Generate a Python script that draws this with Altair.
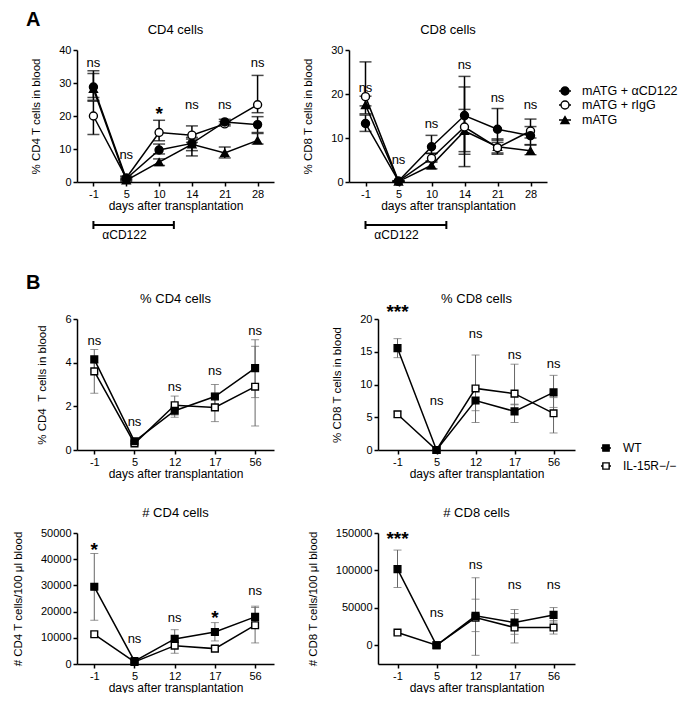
import altair as alt
import pandas as pd

FONT = "Liberation Sans"

# ---------------- Panel A data ----------------
A_DAYS = ["-1", "5", "10", "14", "21", "28"]
A_SERIES = ["mATG + αCD122", "mATG + rIgG", "mATG"]
A_SHAPES = ["circle", "circle", "triangle-up"]
A_FILLS = ["black", "white", "black"]

# CD4 (% CD4 T cells in blood)
A_CD4_ACD122 = [28.8, 1.0, 9.7, 11.7, 18.2, 17.4]
A_CD4_ACD122_LO = [24.8, 0.5, 8.5, 9.5, 17.5, 15.0]
A_CD4_ACD122_HI = [33.7, 1.5, 11.5, 13.5, 19.0, 19.8]
A_CD4_RIGG = [20.0, 1.2, 15.0, 14.2, 17.6, 23.4]
A_CD4_RIGG_LO = [14.4, 0.8, 12.5, 12.0, 17.0, 21.0]
A_CD4_RIGG_HI = [24.5, 1.8, 18.7, 17.0, 18.3, 32.3]
A_CD4_MATG = [28.2, 0.5, 6.0, 11.4, 8.8, 12.6]
A_CD4_MATG_LO = [25.6, 0.2, 5.0, 7.9, 7.3, 11.5]
A_CD4_MATG_HI = [32.9, 1.0, 7.0, 13.0, 10.6, 14.7]
A_CD4_SIG = ["ns", "ns", "*", "ns", "ns", "ns"]
A_CD4_SIG_Y = [36.0, 8.2, 22.0, 23.3, 23.3, 36.0]

# CD8 (% CD8 T cells in blood)
A_CD8_ACD122 = [13.3, 0.2, 8.0, 15.1, 12.0, 10.5]
A_CD8_ACD122_LO = [11.5, 0.1, 6.5, 6.3, 9.5, 8.5]
A_CD8_ACD122_HI = [15.2, 0.3, 10.6, 24.0, 16.7, 12.6]
A_CD8_RIGG = [19.4, 0.2, 5.4, 12.5, 7.8, 11.6]
A_CD8_RIGG_LO = [17.3, 0.1, 4.5, 3.5, 6.6, 10.0]
A_CD8_RIGG_HI = [27.3, 0.3, 6.5, 21.6, 9.0, 14.3]
A_CD8_MATG = [17.5, 0.1, 3.8, 11.6, 8.0, 7.1]
A_CD8_MATG_LO = [15.5, 0.0, 3.0, 6.9, 6.3, 6.2]
A_CD8_MATG_HI = [19.5, 0.2, 4.8, 16.5, 9.8, 8.4]
A_CD8_SIG = ["ns", "ns", "ns", "ns", "ns", "ns"]
A_CD8_SIG_Y = [21.3, 4.9, 13.1, 26.7, 19.2, 17.5]

# anti-CD122 treatment window (in day-index units)
ANNOT_LABEL = ["αCD122"]
ANNOT_START = [0]
ANNOT_END = [2.45]

# ---------------- Panel B data ----------------
B_DAYS = ["-1", "5", "12", "17", "56"]
B_SERIES = ["WT", "IL-15R−/−"]
B_SHAPES = ["square", "square"]
B_FILLS = ["black", "white"]

# % CD4
B_CD4P_WT = [4.15, 0.4, 1.8, 2.45, 3.75]
B_CD4P_WT_LO = [3.7, 0.3, 1.6, 1.9, 2.4]
B_CD4P_WT_HI = [4.6, 0.5, 2.0, 3.0, 5.05]
B_CD4P_KO = [3.6, 0.3, 2.05, 1.95, 2.9]
B_CD4P_KO_LO = [2.6, 0.2, 1.5, 1.3, 1.1]
B_CD4P_KO_HI = [4.0, 0.4, 2.47, 2.6, 4.75]
B_CD4P_SIG = ["ns", "ns", "ns", "ns", "ns"]
B_CD4P_SIG_Y = [5.0, 1.3, 2.9, 3.6, 5.45]

# % CD8
B_CD8P_WT = [15.55, 0.0, 7.55, 5.9, 8.8]
B_CD8P_WT_LO = [14.1, 0.0, 4.2, 4.2, 6.5]
B_CD8P_WT_HI = [17.0, 0.0, 9.0, 7.0, 11.4]
B_CD8P_KO = [5.45, 0.0, 9.4, 8.6, 5.6]
B_CD8P_KO_LO = [5.0, 0.0, 6.0, 6.9, 2.6]
B_CD8P_KO_HI = [5.9, 0.0, 14.5, 13.1, 8.0]
B_CD8P_SIG = ["***", "ns", "ns", "ns", "ns"]
B_CD8P_SIG_Y = [21.8, 7.5, 17.7, 14.5, 13.2]

# # CD4
B_CD4N_WT = [29460, 1100, 9570, 12240, 17990]
B_CD4N_WT_LO = [16700, 500, 6000, 8800, 14000]
B_CD4N_WT_HI = [42200, 1500, 13100, 15800, 22070]
B_CD4N_KO = [11350, 770, 7000, 5870, 14800]
B_CD4N_KO_LO = [10500, 300, 4100, 5000, 8040]
B_CD4N_KO_HI = [12200, 1200, 9000, 6800, 21560]
B_CD4N_SIG = ["*", "ns", "ns", "*", "ns"]
B_CD4N_SIG_Y = [45500, 9440, 17700, 19400, 27900]

# # CD8
B_CD8N_WT = [101800, 0, 39300, 30400, 40600]
B_CD8N_WT_LO = [77200, -500, 18300, 14700, 31000]
B_CD8N_WT_HI = [127200, 500, 61600, 47800, 50400]
B_CD8N_KO = [17000, 0, 37000, 23700, 23700]
B_CD8N_KO_LO = [15000, 0, -13400, 3100, 15000]
B_CD8N_KO_HI = [19000, 0, 90200, 42400, 33000]
B_CD8N_SIG = ["***", "ns", "ns", "ns", "ns"]
B_CD8N_SIG_Y = [149000, 43750, 107000, 80400, 80400]


def table(days, series, means, los, his):
    rows = []
    for s, m, lo, hi in zip(series, means, los, his):
        for i in range(len(days)):
            rows.append({"series": s, "idx": i, "mean": m[i], "lo": lo[i], "hi": hi[i]})
    return pd.DataFrame(rows)


def make_panel(days, series, shapes, fills, means, los, his, sig_labels, sig_y,
               title, ytitle, ydomain, yvalues, xdomain, width, height,
               err_color, err_width, cap, msize, extra_fn=None, shift=0):
    """shift > 0: the plot frame starts `shift` px left of the cell origin."""
    df = table(days, series, means, los, his)
    labels_js = "[" + ",".join("'%s'" % d for d in days) + "]"
    cell_w = width - shift

    def X(field):
        return alt.X(f"{field}:Q",
                     scale=alt.Scale(domain=xdomain, nice=False, zero=False, range=[-shift, cell_w]),
                     axis=alt.Axis(values=list(range(len(days))),
                                   labelExpr=f"{labels_js}[datum.value]",
                                   title="days after transplantation"))

    def Y(field):
        return alt.Y(f"{field}:Q",
                     scale=alt.Scale(domain=ydomain, nice=False, zero=False),
                     axis=alt.Axis(values=yvalues, format="d", title=ytitle, offset=shift))

    base = alt.Chart(df)
    err = base.mark_errorbar(ticks=True, size=cap, thickness=err_width, color=err_color).encode(
        x=X("idx"), y=Y("lo"), y2="hi:Q", detail="series:N")
    line = base.mark_line(color="black", strokeWidth=1.5).encode(
        x=X("idx"), y=Y("mean"), detail="series:N")
    layers = [err, line]
    # points: first series drawn last so it sits on top
    for s, sh, f in reversed(list(zip(series, shapes, fills))):
        layers.append(base.transform_filter(alt.datum.series == s).mark_point(
            shape=sh, fill=f, size=msize, stroke="black", strokeWidth=1.4, opacity=1, fillOpacity=1
        ).encode(x=X("idx"), y=Y("mean")))
    sdf = pd.DataFrame({"idx": list(range(len(sig_labels))), "y": sig_y, "label": sig_labels})
    layers.append(alt.Chart(sdf).transform_filter("datum.label == 'ns'").mark_text(
        fontSize=13, color="black").encode(x=X("idx"), y=Y("y"), text="label:N"))
    layers.append(alt.Chart(sdf).transform_filter("datum.label != 'ns'").mark_text(
        fontSize=19, fontWeight="bold", color="black", dy=5).encode(x=X("idx"), y=Y("y"), text="label:N"))
    # panel title
    layers.append(alt.Chart(pd.DataFrame({"t": [title]})).mark_text(
        fontSize=13, color="black", baseline="middle", align="center").encode(
        x=alt.value(width / 2 - shift), y=alt.value(-20), text="t:N"))
    if extra_fn is not None:
        layers += extra_fn(X)
    return alt.layer(*layers).properties(width=cell_w, height=height)


def legend_layers(series, shapes, fills, xm, xt, ys, half, msize, fsize):
    out = []
    for s, sh, f, yy in zip(series, shapes, fills, ys):
        d = alt.Chart(pd.DataFrame({"s": [s]}))
        out.append(d.mark_rule(color="black", strokeWidth=1.5).encode(
            x=alt.value(xm - half), x2=alt.value(xm + half), y=alt.value(yy)))
        out.append(d.mark_point(shape=sh, fill=f, stroke="black", strokeWidth=1.4, size=msize,
                                opacity=1, fillOpacity=1).encode(x=alt.value(xm), y=alt.value(yy)))
        out.append(d.mark_text(align="left", baseline="middle", fontSize=fsize, color="black").encode(
            x=alt.value(xt), y=alt.value(yy), text="s:N"))
    return out


def panel_label(letter, x, y):
    return alt.Chart(pd.DataFrame({"t": [letter]})).mark_text(
        align="left", baseline="alphabetic", fontSize=20, fontWeight="bold", color="black").encode(
        x=alt.value(x), y=alt.value(y), text="t:N")


def annot_layers(X):
    d = alt.Chart(pd.DataFrame({"start": ANNOT_START, "end": ANNOT_END, "label": ANNOT_LABEL}))
    return [
        d.mark_rule(color="black", strokeWidth=2).encode(x=X("start"), x2="end:Q", y=alt.value(175)),
        d.mark_rule(color="black", strokeWidth=2).encode(x=X("start"), y=alt.value(171), y2=alt.value(179)),
        d.mark_rule(color="black", strokeWidth=2).encode(x=X("end"), y=alt.value(171), y2=alt.value(179)),
        d.mark_text(align="center", baseline="middle", fontSize=12, color="black", dx=31).encode(
            x=X("start"), y=alt.value(185), text="label:N"),
    ]


def spacer(w, h):
    return alt.Chart(pd.DataFrame({"a": [0]})).mark_point(opacity=0, size=1).encode(
        x=alt.value(0), y=alt.value(0)).properties(width=w, height=h)


A_X = [-0.5, 5.5]
SHIFT_A = 29  # row A right panel sits 29 px further left than row B right panels

a_cd4 = make_panel(A_DAYS, A_SERIES, A_SHAPES, A_FILLS,
                   [A_CD4_ACD122, A_CD4_RIGG, A_CD4_MATG],
                   [A_CD4_ACD122_LO, A_CD4_RIGG_LO, A_CD4_MATG_LO],
                   [A_CD4_ACD122_HI, A_CD4_RIGG_HI, A_CD4_MATG_HI],
                   A_CD4_SIG, A_CD4_SIG_Y, "CD4 cells", "% CD4 T cells in blood",
                   [0, 40], [0, 10, 20, 30, 40], A_X, 197, 132,
                   "black", 1.5, 12, 64,
                   extra_fn=lambda X: annot_layers(X) + [panel_label("A", -51, -24)])

a_cd8 = make_panel(A_DAYS, A_SERIES, A_SHAPES, A_FILLS,
                   [A_CD8_ACD122, A_CD8_RIGG, A_CD8_MATG],
                   [A_CD8_ACD122_LO, A_CD8_RIGG_LO, A_CD8_MATG_LO],
                   [A_CD8_ACD122_HI, A_CD8_RIGG_HI, A_CD8_MATG_HI],
                   A_CD8_SIG, A_CD8_SIG_Y, "CD8 cells", "% CD8 T cells in blood",
                   [0, 30], [0, 10, 20, 30], A_X, 198, 132,
                   "black", 1.5, 12, 64,
                   extra_fn=lambda X: annot_layers(X) + legend_layers(
                       A_SERIES, A_SHAPES, A_FILLS, 216 - SHIFT_A, 233 - SHIFT_A, [41, 55, 70], 6, 64, 12.5),
                   shift=SHIFT_A)

B_XL = [-0.43, 4.47]
B_XR = [-0.5, 4.55]
b_cd4p = make_panel(B_DAYS, B_SERIES, B_SHAPES, B_FILLS,
                    [B_CD4P_WT, B_CD4P_KO], [B_CD4P_WT_LO, B_CD4P_KO_LO], [B_CD4P_WT_HI, B_CD4P_KO_HI],
                    B_CD4P_SIG, B_CD4P_SIG_Y, "% CD4 cells", "% CD4\u00a0\u00a0T cells in blood",
                    [0, 6], [0, 2, 4, 6], B_XL, 197, 131,
                    "#666666", 1, 8, 45,
                    extra_fn=lambda X: [panel_label("B", -51, -30)])
b_cd8p = make_panel(B_DAYS, B_SERIES, B_SHAPES, B_FILLS,
                    [B_CD8P_WT, B_CD8P_KO], [B_CD8P_WT_LO, B_CD8P_KO_LO], [B_CD8P_WT_HI, B_CD8P_KO_HI],
                    B_CD8P_SIG, B_CD8P_SIG_Y, "% CD8 cells", "% CD8 T cells in blood",
                    [0, 20], [0, 5, 10, 15, 20], B_XR, 197, 131,
                    "#666666", 1, 8, 45,
                    extra_fn=lambda X: legend_layers(
                        B_SERIES, B_SHAPES, B_FILLS, 228, 245, [129, 147], 5, 40, 12))
b_cd4n = make_panel(B_DAYS, B_SERIES, B_SHAPES, B_FILLS,
                    [B_CD4N_WT, B_CD4N_KO], [B_CD4N_WT_LO, B_CD4N_KO_LO], [B_CD4N_WT_HI, B_CD4N_KO_HI],
                    B_CD4N_SIG, B_CD4N_SIG_Y, "# CD4 cells", "# CD4 T cells/100 μl blood",
                    [0, 50000], [0, 10000, 20000, 30000, 40000, 50000], B_XL, 197, 131,
                    "#666666", 1, 8, 45)
b_cd8n = make_panel(B_DAYS, B_SERIES, B_SHAPES, B_FILLS,
                    [B_CD8N_WT, B_CD8N_KO], [B_CD8N_WT_LO, B_CD8N_KO_LO], [B_CD8N_WT_HI, B_CD8N_KO_HI],
                    B_CD8N_SIG, B_CD8N_SIG_Y, "# CD8 cells", "# CD8 T cells/100 μl blood",
                    [-25000, 150000], [0, 50000, 100000, 150000], B_XR, 197, 131,
                    "#666666", 1, 8, 45)

cells = [
    a_cd4, spacer(94, 132), a_cd8,
    spacer(197, 127), spacer(94, 127), spacer(197, 127),
    b_cd4p, spacer(94, 131), b_cd8p,
    spacer(197, 73), spacer(94, 73), spacer(197, 73),
    b_cd4n, spacer(94, 131), b_cd8n,
]

chart = alt.concat(*cells, columns=3, spacing=5, bounds="flush").properties(
    padding={"left": 4, "top": 2, "right": 0, "bottom": 0},
    background="white",
).configure(font=FONT).configure_view(stroke=None).configure_axis(
    domainColor="black", domainWidth=1.5, tickColor="black", tickWidth=1.5, tickSize=4,
    labelFontSize=11, labelColor="black", labelFont=FONT, labelPadding=2,
    titleFontWeight="normal", titleColor="black", titleFont=FONT,
    grid=False,
).configure_axisY(titlePadding=17, titleFontSize=11.5).configure_axisX(titlePadding=1, titleFontSize=12)

chart.save("out.html", embed_options={"renderer": "svg", "actions": False})
